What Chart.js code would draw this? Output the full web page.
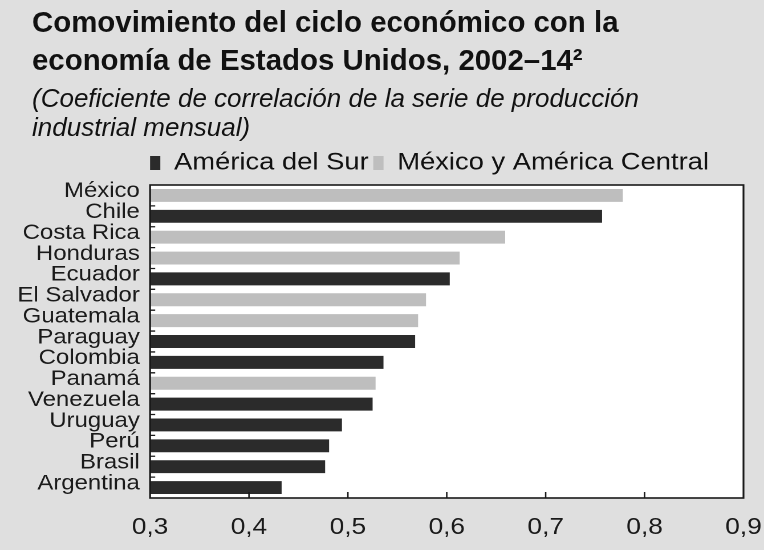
<!DOCTYPE html>
<html lang="es">
<head>
<meta charset="UTF-8">
<title>Comovimiento del ciclo económico</title>
<script src="https://cdn.jsdelivr.net/npm/chart.js"></script>
<style>
  body { margin: 0; background: #dfdfdf; width: 764px; height: 550px; overflow: hidden; position: relative; font-family: "Liberation Sans", Arial, sans-serif; }
  .grafico { position: absolute; left: 0; top: 0; width: 670px; height: 550px; transform: scaleX(1.1403); transform-origin: 0 0; }
  .titulo { position: absolute; left: 32px; top: 3px; margin: 0; font-size: 30px; font-weight: bold; line-height: 38px; color: #111; white-space: nowrap; transform: scaleX(0.98); transform-origin: 0 0; }
  .subtitulo { position: absolute; left: 32px; top: 84px; margin: 0; font-size: 26px; font-style: italic; line-height: 29px; color: #111; white-space: nowrap; }
</style>
</head>
<body>

<div class="grafico"><canvas id="grafico_comovimiento" width="670" height="550"></canvas></div>
<h1 class="titulo">Comovimiento del ciclo económico con la<br>economía de Estados Unidos, 2002–14²</h1>
<p class="subtitulo">(Coeficiente de correlación de la serie de producción<br>industrial mensual)</p>

<script>
  // datos
  const paises = ['México', 'Chile', 'Costa Rica', 'Honduras', 'Ecuador', 'El Salvador', 'Guatemala',
    'Paraguay', 'Colombia', 'Panamá', 'Venezuela', 'Uruguay', 'Perú', 'Brasil', 'Argentina'];
  const regiones = ['Centro', 'Sur', 'Centro', 'Centro', 'Sur', 'Centro', 'Centro',
    'Sur', 'Sur', 'Centro', 'Sur', 'Sur', 'Sur', 'Sur', 'Sur'];
  const coeficientes = [0.778, 0.757, 0.659, 0.613, 0.603, 0.579, 0.571,
    0.568, 0.536, 0.528, 0.525, 0.494, 0.481, 0.477, 0.433];
  const etiquetasX = ['0,3', '0,4', '0,5', '0,6', '0,7', '0,8', '0,9'];

  const datosSur = coeficientes.map((v, i) => regiones[i] === 'Sur' ? v : null);
  const datosCentro = coeficientes.map((v, i) => regiones[i] === 'Centro' ? v : null);

  // fondo blanco, marco y marcas hacia dentro
  const marcoGrafico = {
    id: 'marcoGrafico',
    afterLayout(chart) {
      chart.legend.left = chart.chartArea.left - 4;
    },
    beforeDraw(chart) {
      const { ctx, chartArea: a } = chart;
      ctx.save();
      ctx.fillStyle = '#ffffff';
      ctx.fillRect(a.left, a.top, a.right - a.left, a.bottom - a.top);
      ctx.restore();
    },
    afterDraw(chart) {
      const { ctx, chartArea: a, scales: { x, y } } = chart;
      ctx.save();
      ctx.strokeStyle = '#1a1a1a';
      ctx.lineWidth = 1.3;
      ctx.beginPath();
      x.ticks.forEach(t => {
        const px = x.getPixelForValue(t.value);
        if (px > a.left + 1 && px < a.right - 1) {
          ctx.moveTo(px, a.bottom);
          ctx.lineTo(px, a.bottom - 6);
        }
      });
      for (let i = 1; i < paises.length; i++) {
        const py = (y.getPixelForValue(i - 1) + y.getPixelForValue(i)) / 2;
        ctx.moveTo(a.left, py);
        ctx.lineTo(a.left + 4.5, py);
      }
      ctx.stroke();
      ctx.lineWidth = 1.6;
      ctx.strokeRect(a.left, a.top, a.right - a.left, a.bottom - a.top);
      ctx.restore();
    }
  };

  Chart.defaults.font.family = '"Liberation Sans", Arial, sans-serif';
  Chart.defaults.color = '#1a1a1a';

  new Chart(document.getElementById('grafico_comovimiento'), {
    type: 'bar',
    data: {
      labels: paises,
      datasets: [{
        label: 'América del Sur',
        data: datosSur,
        backgroundColor: '#2b2b2b',
        borderWidth: 0
      }, {
        label: 'México y América Central',
        data: datosCentro,
        backgroundColor: '#bebebe',
        borderWidth: 0
      }]
    },
    options: {
      indexAxis: 'y',
      responsive: false,
      devicePixelRatio: 2,
      animation: false,
      grouped: false,
      barPercentage: 0.62,
      categoryPercentage: 1,
      layout: { padding: { top: 147, right: 18, bottom: 0, left: 0 } },
      plugins: {
        legend: {
          position: 'top',
          align: 'start',
          labels: { boxWidth: 9, boxHeight: 14, padding: 4, font: { size: 24 }, color: '#111' }
        },
        tooltip: { enabled: false }
      },
      scales: {
        x: {
          min: 0.3,
          max: 0.9,
          grid: { display: false, drawTicks: false, tickLength: 0 },
          border: { display: false },
          afterFit: s => { s.height = 52; s.paddingLeft = 0; s.paddingRight = 0; },
          ticks: {
            stepSize: 0.1,
            padding: 16,
            font: { size: 23 },
            callback: (v, i) => etiquetasX[i]
          }
        },
        y: {
          grid: { display: false, drawTicks: false, tickLength: 0 },
          border: { display: false },
          afterFit: s => { s.width = 131.6; },
          ticks: { padding: 9, labelOffset: -4, font: { size: 21 }, autoSkip: false }
        }
      }
    },
    plugins: [marcoGrafico]
  });
</script>
</body>
</html>
